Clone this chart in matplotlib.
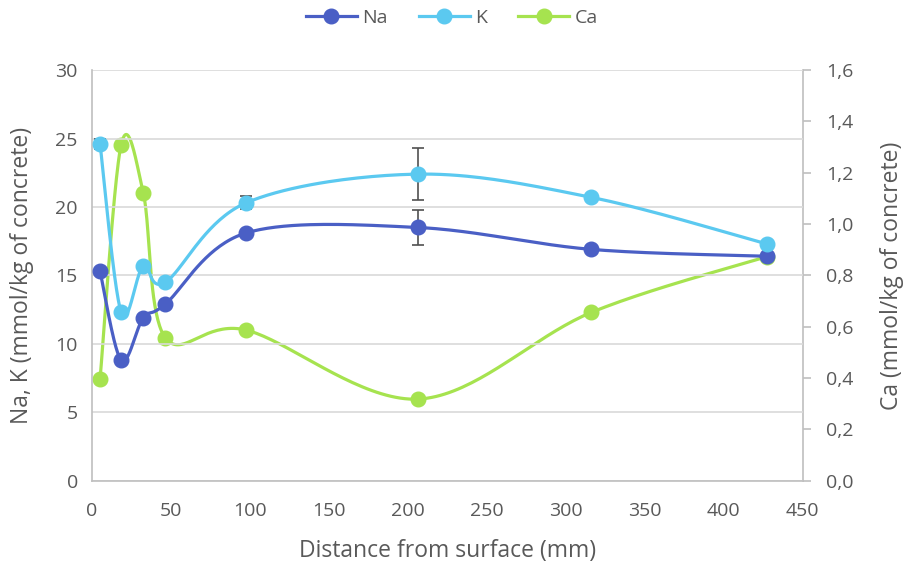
import matplotlib

matplotlib.use("Agg")
import matplotlib.pyplot as plt
import numpy as np
from matplotlib.lines import Line2D
from matplotlib.ticker import FuncFormatter, MultipleLocator

# distance from surface (mm)
depth = [5.3, 18.7, 32.7, 46.6, 97.7, 206.7, 316.3, 427.2]
na = [15.3, 8.8, 11.9, 12.9, 18.1, 18.5, 16.9, 16.4]
k = [24.6, 12.3, 15.7, 14.5, 20.3, 22.4, 20.7, 17.3]
ca = [0.396, 1.31, 1.12, 0.557, 0.587, 0.318, 0.656, 0.873]

# error bars (only some points have them)
k_err = [0.4, 0, 0, 0, 0.47, 1.9, 0, 0]
na_err = [0, 0, 0, 0, 0, 1.3, 0, 0]

NA_COL = "#4a5fc5"
K_COL = "#5bc9f0"
CA_COL = "#a6e34f"
TXT = "#595959"
GRID = "#d9d9d9"
SPINE = "#bfbfbf"


def smooth(xs, ys, n=40):
    # Catmull-Rom through the points, like the spreadsheet "smoothed line"
    p = np.column_stack([xs, ys]).astype(float)
    p = np.vstack([p[0], p, p[-1]])
    t = np.linspace(0, 1, n)[:, None]
    out = []
    for i in range(1, len(p) - 2):
        p0, p1, p2, p3 = p[i - 1], p[i], p[i + 1], p[i + 2]
        c1 = p1 + (p2 - p0) / 6
        c2 = p2 - (p3 - p1) / 6
        seg = ((1 - t) ** 3) * p1 + 3 * ((1 - t) ** 2) * t * c1 + 3 * (1 - t) * t ** 2 * c2 + t ** 3 * p2
        out.append(seg)
    seg = np.vstack(out)
    return seg[:, 0], seg[:, 1]


plt.rcParams.update({"font.family": ["Open Sans", "DejaVu Sans"], "font.size": 12})

fig, ax = plt.subplots(figsize=(9.04, 5.70), dpi=100)
fig.subplots_adjust(left=0.1014, right=0.888, bottom=0.1567, top=0.877)
ax2 = ax.twinx()

ax.set_zorder(2)
ax.patch.set_visible(False)

# lines
for ys, col in [(na, NA_COL), (k, K_COL)]:
    sx, sy = smooth(depth, ys)
    ax.plot(sx, sy, color=col, lw=2.3, zorder=3, solid_capstyle="round")
sx, sy = smooth(depth, ca)
ax2.plot(sx, sy, color=CA_COL, lw=2.3, zorder=3, solid_capstyle="round")

# error bars
for ys, err in [(na, na_err), (k, k_err)]:
    xs = [x for x, e in zip(depth, err) if e > 0]
    yv = [y for y, e in zip(ys, err) if e > 0]
    ev = [e for e in err if e > 0]
    ax.errorbar(xs, yv, yerr=ev, fmt="none", ecolor="#505050", elinewidth=1.2,
                capsize=4.5, capthick=1.2, zorder=2.5)

# markers
ax.plot(depth, na, "o", color=NA_COL, ms=10.5, zorder=4)
ax.plot(depth, k, "o", color=K_COL, ms=10.5, zorder=4)
ax2.plot(depth, ca, "o", color=CA_COL, ms=10.5, zorder=4)

ax.set_xlim(0, 450)
ax.set_ylim(0, 30)
ax2.set_ylim(0, 1.6)
ax.xaxis.set_major_locator(MultipleLocator(50))
ax.yaxis.set_major_locator(MultipleLocator(5))
ax2.yaxis.set_major_locator(MultipleLocator(0.2))
ax2.yaxis.set_major_formatter(FuncFormatter(lambda v, _: f"{v:.1f}".replace(".", ",")))

ax.grid(axis="y", color=GRID, lw=1.2)
ax.set_axisbelow(True)

for a in (ax, ax2):
    for s in a.spines.values():
        s.set_visible(False)
ax.spines["left"].set_visible(True)
ax.spines["bottom"].set_visible(True)
ax2.spines["right"].set_visible(True)
for s in (ax.spines["left"], ax.spines["bottom"], ax2.spines["right"]):
    s.set_color(SPINE)
    s.set_linewidth(1.2)

ax.tick_params(axis="both", length=0, labelsize=14, labelcolor=TXT, pad=10)
ax.tick_params(axis="x", pad=15)
ax2.tick_params(axis="y", length=6, width=1.2, color=SPINE, labelsize=14, labelcolor=TXT, pad=11)

ax.set_xlabel("Distance from surface (mm)", fontsize=16.5, color=TXT, labelpad=14)
ax.set_ylabel("Na, K (mmol/kg of concrete)", fontsize=16.5, color=TXT, labelpad=15)
ax2.set_ylabel("Ca (mmol/kg of concrete)", fontsize=16.5, color=TXT, labelpad=19)

handles = [
    Line2D([], [], color=NA_COL, lw=2.3, marker="o", ms=10.5),
    Line2D([], [], color=K_COL, lw=2.3, marker="o", ms=10.5),
    Line2D([], [], color=CA_COL, lw=2.3, marker="o", ms=10.5),
]
fig.legend(handles, ["Na", "K", "Ca"], loc="center", bbox_to_anchor=(0.5, 0.968), ncol=3,
           frameon=False, fontsize=14, labelcolor=TXT, handlelength=2.6, handletextpad=0.3,
           columnspacing=1.6)

fig.savefig("out.png", dpi=100)
